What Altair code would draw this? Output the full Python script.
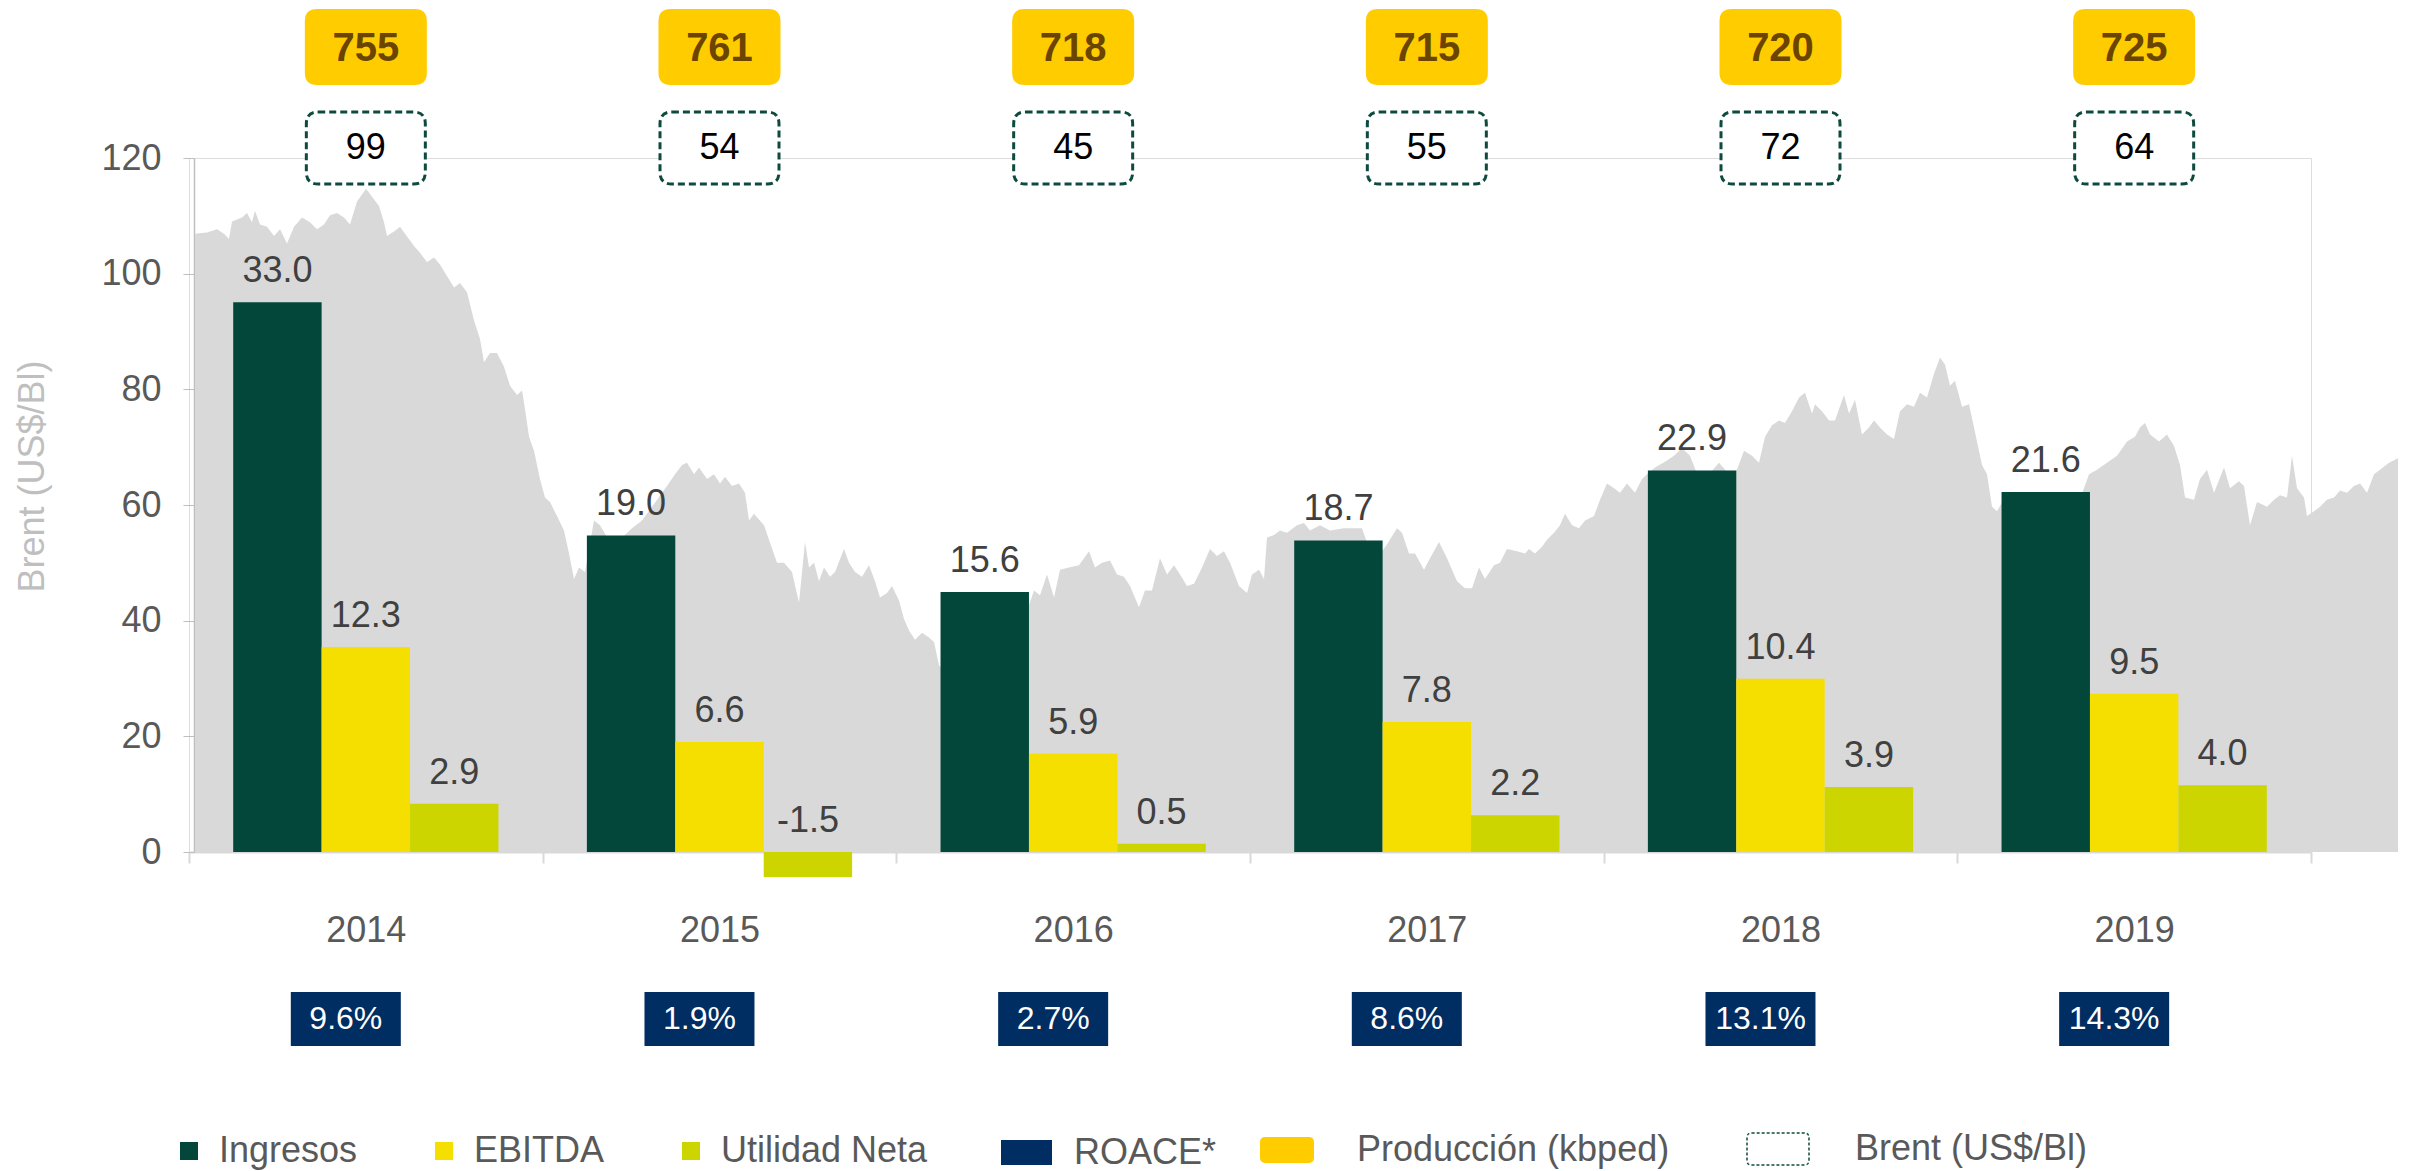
import altair as alt
import pandas as pd

FONT = "Liberation Sans"

# ---------------- data ----------------
anios = ["2014", "2015", "2016", "2017", "2018", "2019"]
series = ["Ingresos", "EBITDA", "Utilidad Neta"]
ingresos = [33.0, 19.0, 15.6, 18.7, 22.9, 21.6]
ebitda = [12.3, 6.6, 5.9, 7.8, 10.4, 9.5]
utilidad = [2.9, -1.5, 0.5, 2.2, 3.9, 4.0]
roace = ["9.6%", "1.9%", "2.7%", "8.6%", "13.1%", "14.3%"]
produccion = [755, 761, 718, 715, 720, 725]
brent_promedio = [99, 54, 45, 55, 72, 64]

brent_dias = [
    0, 12, 22, 29, 34, 37, 47, 52, 57, 60, 65, 72, 79, 85, 92, 99, 107, 115, 122, 129,
    135, 142, 149, 155, 162, 167, 171, 177, 184, 189, 192, 199, 205, 210, 219, 225, 232, 239, 245, 252,
    259, 265, 272, 279, 285, 289, 295, 302, 309, 315, 322, 327, 330, 334, 339, 345, 350, 355, 362, 369,
    374, 379, 384, 390, 399, 405, 415, 425, 437, 447, 472, 480, 487, 492, 499, 504, 512, 519, 525, 530,
    537, 544, 550, 554, 559, 569, 574, 582, 589, 597, 604, 607, 610, 614, 619, 624, 629, 635, 640, 649,
    654, 660, 667, 674, 680, 685, 692, 697, 704, 709, 714, 720, 727, 734, 739, 744, 752, 765, 780, 795,
    810, 825, 834, 839, 845, 852, 859, 865, 874, 884, 894, 900, 907, 915, 922, 929, 935, 944, 950, 957,
    965, 972, 979, 985, 992, 999, 1007, 1015, 1022, 1029, 1035, 1044, 1052, 1057, 1064, 1069, 1072, 1079, 1085, 1092,
    1102, 1109, 1115, 1125, 1135, 1149, 1167, 1175, 1185, 1192, 1202, 1207, 1214, 1220, 1229, 1235, 1244, 1252, 1262, 1270,
    1277, 1284, 1290, 1299, 1305, 1312, 1322, 1330, 1334, 1340, 1347, 1352, 1359, 1365, 1370, 1377, 1384, 1390, 1399, 1405,
    1412, 1419, 1425, 1432, 1440, 1447, 1452, 1460, 1470, 1479, 1487, 1495, 1504, 1514, 1524, 1534, 1542, 1549, 1557, 1564,
    1570, 1577, 1584, 1590, 1597, 1604, 1610, 1617, 1620, 1627, 1634, 1640, 1649, 1654, 1660, 1667, 1674, 1679, 1685, 1692,
    1699, 1705, 1712, 1719, 1725, 1732, 1739, 1745, 1750, 1755, 1760, 1767, 1774, 1782, 1787, 1792, 1797, 1802, 1812, 1825,
    1840, 1855, 1865, 1875, 1885, 1894, 1902, 1912, 1922, 1932, 1940, 1945, 1950, 1955, 1964, 1972, 1979, 1985, 1990, 1999,
    2005, 2012, 2019, 2029, 2035, 2044, 2049, 2055, 2062, 2072, 2079, 2085, 2092, 2097, 2102, 2109, 2112, 2119, 2125, 2132,
    2139, 2145, 2152, 2159, 2165, 2172, 2179, 2185, 2194, 2203,
]
brent_usd = [
    106.9, 107.1, 107.7, 106.9, 106.0, 109.0, 109.7, 110.5, 108.9, 110.9, 108.5, 108.1, 106.5, 107.7, 105.2, 108.1, 109.7, 108.9, 107.7, 108.5,
    110.1, 110.5, 109.7, 108.5, 112.5, 113.7, 114.7, 113.3, 111.7, 108.9, 106.5, 107.3, 108.1, 106.9, 104.8, 103.6, 102.0, 102.8, 101.6, 99.6,
    97.6, 98.4, 96.8, 91.9, 88.7, 84.7, 86.3, 86.3, 83.9, 80.6, 79.0, 79.8, 76.6, 71.8, 69.4, 64.5, 61.3, 60.5, 58.1, 55.6,
    51.6, 47.2, 49.2, 48.4, 57.3, 56.5, 53.5, 54.0, 56.0, 57.3, 63.3, 65.3, 66.9, 67.3, 65.3, 66.5, 64.5, 65.3, 63.7, 64.9,
    63.3, 63.7, 62.1, 57.3, 58.5, 56.5, 54.0, 50.0, 50.0, 48.4, 43.1, 48.4, 53.6, 49.2, 50.0, 46.8, 49.2, 47.6, 48.4, 52.4,
    50.0, 48.4, 47.6, 49.6, 46.8, 44.0, 44.8, 46.0, 43.5, 40.3, 38.3, 36.7, 37.9, 37.1, 36.3, 32.3, 30.5, 32.0, 34.5, 37.0,
    39.5, 41.5, 42.7, 45.2, 44.4, 48.0, 44.0, 48.8, 49.2, 49.6, 52.0, 49.2, 50.0, 50.4, 48.0, 47.6, 46.0, 42.3, 45.2, 45.2,
    50.8, 48.0, 49.6, 48.0, 46.0, 46.4, 49.2, 52.4, 51.2, 52.0, 50.0, 46.0, 44.8, 48.0, 48.8, 47.2, 54.4, 54.8, 55.6, 55.2,
    56.5, 56.9, 55.6, 56.5, 55.6, 56.0, 56.0, 52.0, 51.5, 53.2, 56.0, 55.2, 51.6, 51.6, 48.8, 50.8, 53.6, 50.8, 46.8, 45.6,
    45.6, 49.2, 47.2, 49.6, 50.0, 52.4, 52.0, 51.6, 52.4, 51.6, 52.8, 54.0, 55.2, 56.5, 58.5, 56.5, 56.0, 57.3, 58.1, 60.9,
    63.7, 62.9, 62.1, 63.7, 62.1, 64.5, 65.3, 66.5, 67.5, 68.5, 69.8, 68.5, 64.5, 65.3, 67.3, 65.3, 66.1, 69.4, 68.5, 67.3,
    71.8, 73.8, 74.6, 74.2, 76.2, 78.6, 79.4, 75.8, 77.4, 76.2, 74.6, 74.6, 79.0, 75.8, 78.2, 72.2, 73.4, 74.6, 73.4, 72.2,
    71.4, 76.2, 77.4, 77.0, 79.4, 78.6, 82.7, 85.5, 84.3, 80.6, 81.5, 77.0, 77.4, 71.0, 66.9, 65.3, 59.7, 58.9, 62.0, 58.5,
    56.0, 52.0, 54.0, 57.0, 61.0, 65.3, 66.1, 67.3, 68.5, 71.0, 71.8, 73.4, 74.2, 72.2, 71.0, 72.2, 70.2, 66.9, 61.3, 60.9,
    64.5, 66.1, 62.1, 66.5, 62.9, 64.1, 63.3, 56.5, 60.5, 59.7, 60.9, 61.7, 61.3, 68.5, 62.9, 61.3, 58.1, 58.9, 59.7, 60.9,
    61.3, 62.5, 62.1, 63.3, 63.7, 62.1, 65.3, 66.1, 67.3, 68.1,
]

# ---------------- tables ----------------
df_brent = pd.DataFrame({
    "fecha": pd.Timestamp("2014-01-01") + pd.to_timedelta(brent_dias, unit="D"),
    "brent": brent_usd,
})

valores = {"Ingresos": ingresos, "EBITDA": ebitda, "Utilidad Neta": utilidad}
filas = []
for s in series:
    for a, v in zip(anios, valores[s]):
        filas.append({"anio": a, "serie": s, "valor": v, "etiqueta": f"{v:.1f}"})
df_fin = pd.DataFrame(filas)

df_anual = pd.DataFrame({
    "anio": anios,
    "roace": roace,
    "produccion": [str(p) for p in produccion],
    "brent_prom": [str(b) for b in brent_promedio],
})

# ---------------- styling helpers ----------------
def rrect(hw, hh, r, dx=0.0):
    x0, x1, y0, y1 = -hw + dx, hw + dx, -hh, hh
    f = lambda v: f"{v:.3f}"
    if r <= 0:
        return f"M{f(x0)},{f(y0)} L{f(x1)},{f(y0)} L{f(x1)},{f(y1)} L{f(x0)},{f(y1)} Z"
    return (f"M{f(x0 + r)},{f(y0)} L{f(x1 - r)},{f(y0)} Q{f(x1)},{f(y0)} {f(x1)},{f(y0 + r)} "
            f"L{f(x1)},{f(y1 - r)} Q{f(x1)},{f(y1)} {f(x1 - r)},{f(y1)} "
            f"L{f(x0 + r)},{f(y1)} Q{f(x0)},{f(y1)} {f(x0)},{f(y1 - r)} "
            f"L{f(x0)},{f(y0 + r)} Q{f(x0)},{f(y0)} {f(x0 + r)},{f(y0)} Z")

C_ING, C_EBI, C_UTI = "#02473A", "#F5DF00", "#CDD500"
C_ROACE, C_PROD, C_BRENT = "#002D62", "#FFCC00", "#0E4B3E"
GRID = "#D9D9D9"

W, H = 2122, 694
ROW_PROD, ROW_BRENT, ROW_ROACE = -111, -10, 861

leg_common = dict(orient="none", direction="horizontal", title=None, labelFont=FONT,
                  labelFontSize=36, labelColor="#595959", labelLimit=1000, padding=0)

# ---------------- layers ----------------
area = alt.Chart(df_brent).mark_area(color=GRID, interpolate="linear").encode(
    x=alt.X("fecha:T", axis=None,
            scale=alt.Scale(domain=[alt.DateTime(year=2013, month=12, date=26),
                                    alt.DateTime(year=2019, month=10, date=18)], nice=False)),
    y=alt.Y("brent:Q", scale=alt.Scale(domain=[0, 120], nice=False),
            axis=alt.Axis(orient="left", values=[0, 20, 40, 60, 80, 100, 120], grid=False,
                          tickSize=11, tickColor="#BFBFBF", domainColor="#BFBFBF", domainWidth=1.5,
                          labelFont=FONT, labelFontSize=36, labelColor="#595959", labelPadding=22,
                          title="Brent (US$/Bl)", titleFont=FONT, titleFontSize=36,
                          titleFontWeight="normal", titleColor="#BFBFBF", titlePadding=49,
                          titleY=318, offset=-5)),
)

x_enc = alt.X("anio:N", sort=anios,
              scale=alt.Scale(domain=anios, paddingInner=0, paddingOuter=0),
              axis=alt.Axis(orient="bottom", title=None, labelAngle=0, labelFont=FONT,
                            labelFontSize=36, labelColor="#595959", labelPadding=50,
                            tickBand="extent", tickSize=11, tickColor=GRID, tickWidth=2,
                            domainColor=GRID, domainWidth=2))
xoff = alt.XOffset("serie:N", sort=series,
                   scale=alt.Scale(domain=series, paddingInner=0, paddingOuter=0.5))
y_bar = alt.Scale(domain=[0, 41.65], nice=False, zero=True)

bars = alt.Chart(df_fin).mark_bar().encode(
    x=x_enc, xOffset=xoff,
    y=alt.Y("valor:Q", scale=y_bar, axis=None),
    color=alt.Color("serie:N", sort=series,
                    scale=alt.Scale(domain=series, range=[C_ING, C_EBI, C_UTI]),
                    legend=alt.Legend(symbolType="square", symbolSize=324, symbolStrokeWidth=0,
                                      labelOffset=12, columnPadding=68,
                                      legendX=-18, legendY=975, **leg_common)),
)

bar_labels = alt.Chart(df_fin).transform_calculate(
    pos="max(datum.valor, 0)"
).mark_text(baseline="alphabetic", dy=-20, font=FONT, fontSize=36, color="#404040").encode(
    x=x_enc, xOffset=xoff,
    y=alt.Y("pos:Q", scale=y_bar, axis=None),
    text="etiqueta:N",
)

prod_box = alt.Chart(df_anual).transform_calculate(
    serie="'Producción (kbped)'"
).mark_point(shape=rrect(1, 0.623, 0.2), filled=True, size=122 ** 2, opacity=1, strokeWidth=0).encode(
    x=x_enc, y=alt.value(ROW_PROD),
    color=alt.Color("serie:N", scale=alt.Scale(domain=["Producción (kbped)"], range=[C_PROD]),
                    legend=alt.Legend(symbolType=rrect(1, 0.48, 0.2), symbolSize=54 ** 2,
                                      symbolStrokeWidth=0, labelOffset=43,
                                      legendX=1071, legendY=965, **leg_common)),
)
prod_txt = alt.Chart(df_anual).mark_text(font=FONT, fontSize=40, fontWeight="bold",
                                         color="#6B4500", baseline="middle").encode(
    x=x_enc, y=alt.value(ROW_PROD + 2), text="produccion:N")

brent_box = alt.Chart(df_anual).transform_calculate(
    serie="'Brent (US$/Bl)'"
).mark_point(shape=rrect(1, 0.605, 0.2), filled=False, fill="white", size=119 ** 2, opacity=1,
             strokeWidth=3, strokeDash=[7, 4]).encode(
    x=x_enc, y=alt.value(ROW_BRENT),
    color=alt.Color("serie:N", scale=alt.Scale(domain=["Brent (US$/Bl)"], range=[C_BRENT]),
                    legend=alt.Legend(symbolType=rrect(1, 0.516, 0.15), symbolSize=62 ** 2,
                                      symbolStrokeWidth=1.5, symbolFillColor="white",
                                      symbolStrokeColor=C_BRENT, symbolDash=[3, 2],
                                      labelOffset=45, legendX=1557, legendY=959, **leg_common)),
)
brent_txt = alt.Chart(df_anual).mark_text(font=FONT, fontSize=36, color="#000000",
                                          baseline="middle").encode(
    x=x_enc, y=alt.value(ROW_BRENT), text="brent_prom:N")

roace_box = alt.Chart(df_anual).transform_calculate(
    serie="'ROACE*'"
).mark_point(shape=rrect(1, 0.491, 0, dx=-0.364), filled=True, size=110 ** 2, opacity=1,
             strokeWidth=0).encode(
    x=x_enc, y=alt.value(ROW_ROACE),
    color=alt.Color("serie:N", scale=alt.Scale(domain=["ROACE*"], range=[C_ROACE]),
                    legend=alt.Legend(symbolType=rrect(1, 0.49, 0), symbolSize=51 ** 2,
                                      symbolStrokeWidth=0, labelOffset=22,
                                      legendX=812, legendY=969, **leg_common)),
)
roace_txt = alt.Chart(df_anual).mark_text(font=FONT, fontSize=32, color="white", dx=-20,
                                          baseline="middle").encode(
    x=x_enc, y=alt.value(ROW_ROACE), text="roace:N")

inner = alt.layer(bars, bar_labels, brent_box, brent_txt, prod_box, prod_txt,
                  roace_box, roace_txt).resolve_scale(color="independent")

chart = alt.layer(area, inner).resolve_scale(
    x="independent", y="independent"
).properties(width=W, height=H, background="white",
             padding={"left": 6, "top": 0, "right": 0, "bottom": 0}).configure_view(
    stroke=None).configure(font=FONT)

chart.save("out.html", embed_options={"renderer": "svg", "actions": False})
